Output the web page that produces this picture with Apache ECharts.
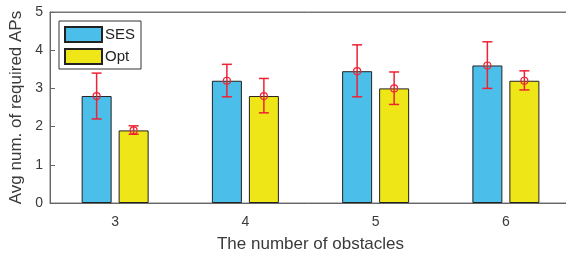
<!DOCTYPE html>
<html>
<head>
<meta charset="utf-8">
<script src="https://cdn.jsdelivr.net/npm/echarts@6/dist/echarts.min.js"></script>
<style>
  html, body { margin: 0; padding: 0; background: #fff; }
  #chart { width: 566px; height: 255px; }
</style>
</head>
<body>
<div id="chart"></div>
<script>
var categories = ['3', '4', '5', '6'];
var sesMean = [2.8, 3.2, 3.45, 3.6];
var sesLow = [2.2, 2.78, 2.78, 3.0];
var sesHigh = [3.4, 3.63, 4.14, 4.22];
var optMean = [1.9, 2.8, 3.0, 3.2];
var optLow = [1.8, 2.36, 2.58, 2.96];
var optHigh = [2.02, 3.26, 3.43, 3.46];

var barW = 30;
var gapW = 7;
var errColor = '#EE2233';

function errRender(offset) {
    return function (params, api) {
        var hi = api.coord([api.value(0), api.value(2)]);
        var lo = api.coord([api.value(0), api.value(1)]);
        var mid = api.coord([api.value(0), api.value(3)]);
        var x = hi[0] + offset;
        var st = { stroke: errColor, lineWidth: 1.5, fill: null };
        return {
            type: 'group',
            children: [
                { type: 'line', shape: { x1: x, y1: hi[1], x2: x, y2: lo[1] }, style: st },
                { type: 'line', shape: { x1: x - 5, y1: hi[1], x2: x + 5, y2: hi[1] }, style: st },
                { type: 'line', shape: { x1: x - 5, y1: lo[1], x2: x + 5, y2: lo[1] }, style: st },
                { type: 'circle', shape: { cx: x, cy: mid[1], r: 3.5 }, style: { stroke: errColor, lineWidth: 1.2, fill: 'none' } }
            ]
        };
    };
}

function errData(lows, highs, means) {
    return lows.map(function (v, i) { return [i, v, highs[i], means[i]]; });
}

var chart = echarts.init(document.getElementById('chart'));
var font = 'Liberation Sans, Arial, sans-serif';
var option = {
    animation: false,
    textStyle: { fontFamily: font },
    grid: {
        left: 50, top: 12, width: 521, height: 191, show: true, borderColor: '#777', borderWidth: 1,
        outerBoundsMode: 'none', containLabel: false
    },
    legend: {
        orient: 'vertical',
        left: 59,
        top: 21,
        padding: [5, 6, 4, 5],
        itemWidth: 37,
        itemHeight: 15,
        itemGap: 5,
        icon: 'rect',
        borderColor: '#333',
        borderWidth: 1,
        backgroundColor: '#fff',
        textStyle: { fontSize: 15, color: '#222', fontFamily: font, padding: [0, 0, 0, -2] },
        data: ['SES', 'Opt']
    },
    xAxis: [{
        type: 'category',
        data: categories,
        name: 'The number of obstacles',
        nameLocation: 'middle',
        nameGap: 33,
        nameTextStyle: { fontSize: 17, color: '#3a3a3a' },
        axisLine: { lineStyle: { color: '#666' } },
        axisTick: { inside: true, alignWithLabel: true, length: 5, lineStyle: { color: '#666' } },
        axisLabel: { fontSize: 14, color: '#3a3a3a', margin: 12 }
    }, {
        type: 'category',
        data: categories,
        position: 'top',
        axisLine: { lineStyle: { color: '#777' } },
        axisTick: { inside: true, alignWithLabel: true, length: 5, lineStyle: { color: '#777' } },
        axisLabel: { show: false }
    }],
    yAxis: {
        type: 'value',
        min: 0,
        max: 5,
        interval: 1,
        name: 'Avg num. of required APs',
        nameLocation: 'middle',
        nameGap: 16,
        nameTextStyle: { fontSize: 17, color: '#3a3a3a' },
        axisLine: { show: true, lineStyle: { color: '#666' } },
        axisTick: { show: true, inside: true, length: 5, lineStyle: { color: '#666' } },
        axisLabel: { fontSize: 14, color: '#3a3a3a', margin: 7 },
        splitLine: { show: false }
    },
    series: [
        {
            name: 'SES', type: 'bar', data: sesMean, barWidth: barW, barGap: (gapW / barW * 100) + '%',
            itemStyle: { color: '#4BBFEA', borderColor: '#222', borderWidth: 1 }
        },
        {
            name: 'Opt', type: 'bar', data: optMean, barWidth: barW,
            itemStyle: { color: '#EEE617', borderColor: '#222', borderWidth: 1 }
        },
        {
            type: 'custom', data: errData(sesLow, sesHigh, sesMean), renderItem: errRender(-(barW + gapW) / 2),
            encode: { x: 0, y: [1, 2] }, z: 5
        },
        {
            type: 'custom', data: errData(optLow, optHigh, optMean), renderItem: errRender((barW + gapW) / 2),
            encode: { x: 0, y: [1, 2] }, z: 5
        }
    ]
};
chart.setOption(option);
</script>
</body>
</html>
